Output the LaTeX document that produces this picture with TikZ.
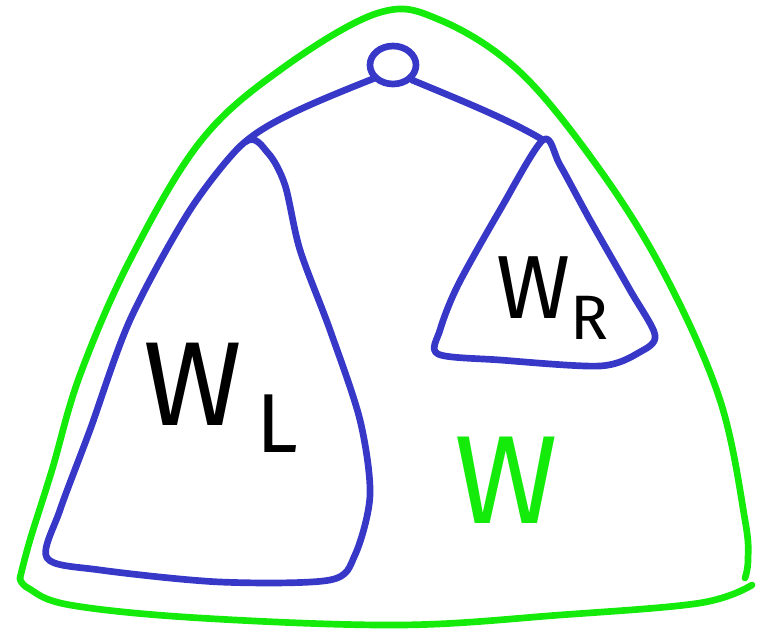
\documentclass[tikz,border=0pt]{standalone}
\usepackage{fontspec}
\setsansfont{Fira Sans}
\usetikzlibrary{positioning}
\definecolor{penGreen}{RGB}{20,235,10}
\definecolor{penBlue}{RGB}{55,55,200}
\begin{document}
\begin{tikzpicture}[
    x=0.01cm, y=-0.01cm,
    outline/.style={draw=penGreen, line width=1.9pt, line cap=round, line join=round},
    sketch/.style={draw=penBlue, line width=1.9pt, line cap=round, line join=round},
    lbl/.style={font=\sffamily\fontsize{34}{40}\selectfont}
]
    \useasboundingbox (0,0) rectangle (769,630);

    % green outer region
    \draw[outline] plot[smooth, tension=0.6] coordinates {(20,578) (30,540) (52,470) (80,375) (130,260) (200,142) (280,70) (378,13) (440,20) (520,72) (600,170) (665,275) (720,400) (745,520) (748,560) (745,578)};
    \draw[outline] plot[smooth, tension=0.6] coordinates {(752,585) (700,603) (560,615) (400,625) (200,618) (70,605) (28,588) (20,578)};

    % blue root and subtrees
    \draw[sketch] (393,65) circle [x radius=23, y radius=19];
    \coordinate (rootL) at (375,78);
    \coordinate (rootR) at (412,80);
    \coordinate (topL) at (245,142);
    \coordinate (topR) at (543,140);
    \draw[sketch] (rootL) .. controls (320,100) and (270,120) .. (topL);
    \draw[sketch] (rootR) .. controls (460,100) and (510,120) .. (topR);

    \draw[sketch] plot[smooth cycle, tension=0.5] coordinates {(245,142) (190,210) (130,320) (90,430) (60,510) (47,558) (100,570) (220,582) (330,580) (355,555) (370,495) (360,420) (330,330) (300,250) (285,185) (268,153)};
    \draw[sketch] plot[smooth cycle, tension=0.5] coordinates {(543,140) (500,210) (458,285) (440,330) (438,354) (500,360) (600,366) (640,352) (655,335) (630,290) (590,220) (560,165)};

    % labels
    \node[lbl, text=black] (wl) at (222,398) {W\textsubscript{\,L}};
    \node[lbl, text=black, scale=0.75] (wr) at (553,298) {W\textsubscript{R}};
    \node[lbl, text=penGreen, scale=1.05] (w) at (506,480) {W};
\end{tikzpicture}
\end{document}
